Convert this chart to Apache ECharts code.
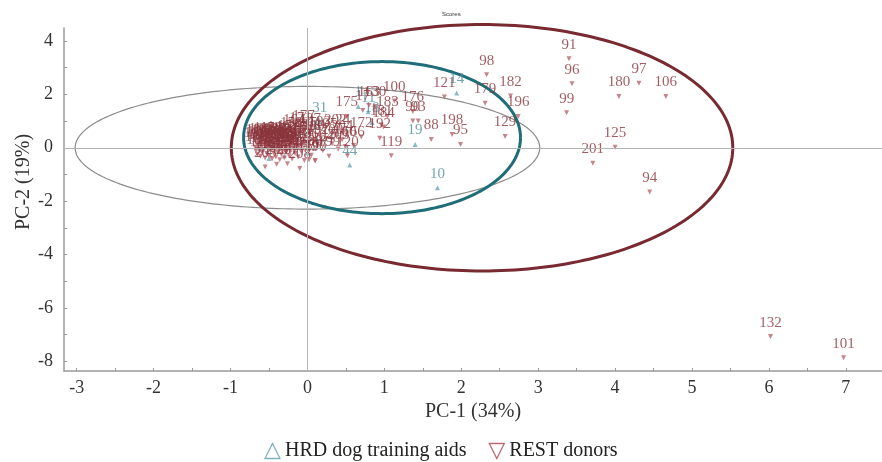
<!DOCTYPE html>
<html><head><meta charset="utf-8">
<script src="https://cdn.jsdelivr.net/npm/echarts@6/dist/echarts.min.js"></script>
<style>html,body{margin:0;padding:0;background:#fff}#c{width:882px;height:462px}</style>
</head><body><div id="c"></div>
<script>
// REST donors (red, down triangles)
const restIds = [91,96,99,98,121,179,182,196,129,198,95,88,119,180,97,106,125,201,94,132,101,100,176,93,90,130,163,17,175,183,181,184,192,24,172,160,166,120,157,197,
102,103,104,105,107,108,109,110,111,112,113,114,115,116,117,118,122,123,124,126,127,128,131,133,134,135,136,137,138,139,140,141,142,143,144,145,146,147,148,149,
150,151,152,153,154,155,156,158,159,161,162,164,165,167,168,169,170,171,173,174,177,178,185,186,187,188,189,190,191,193,194,195,199,200,202,203,204,205,206,207,208];
const restX = [3.40,3.44,3.37,2.33,1.78,2.31,2.64,2.74,2.57,1.88,1.99,1.61,1.09,4.05,4.31,4.66,4.00,3.71,4.45,6.02,6.97,1.13,1.37,1.44,1.37,0.88,0.80,0.72,0.51,1.04,0.96,0.99,0.94,0.46,0.70,0.49,0.60,0.52,0.02,0.10,
-0.68,-0.67,-0.66,-0.65,-0.64,-0.63,-0.62,-0.61,-0.60,-0.59,-0.58,-0.57,-0.56,-0.55,-0.54,-0.53,-0.52,-0.51,-0.50,-0.49,-0.48,-0.47,-0.46,-0.45,-0.44,-0.43,-0.42,-0.41,-0.40,-0.39,-0.38,-0.37,-0.36,-0.35,-0.34,-0.33,-0.32,-0.31,-0.30,-0.29,
-0.28,-0.27,-0.26,-0.25,-0.24,-0.23,-0.22,-0.21,-0.20,-0.19,-0.18,-0.17,-0.16,-0.15,-0.13,-0.12,-0.11,-0.09,-0.08,-0.06,-0.05,-0.04,-0.02,0.00,0.03,0.05,0.08,0.10,0.13,0.16,0.20,0.24,0.28,0.32,0.36,0.40,0.45,
-0.55,-0.40,-0.26,-0.10,0.11,0.30,0.45,0.62];
const restY = [3.34,2.40,1.31,2.74,1.90,1.67,1.94,1.17,0.42,0.50,0.12,0.31,-0.30,1.92,2.42,1.92,0.02,-0.58,-1.66,-7.08,-7.87,1.75,1.36,1.00,1.00,1.55,1.58,1.40,1.17,1.17,0.85,0.78,0.36,0.53,0.40,0.05,0.08,-0.30,-0.45,-0.48,
0.02,-0.12,0.15,-0.25,0.08,-0.05,0.18,-0.32,0.00,-0.18,0.12,-0.08,0.20,-0.38,0.05,-0.22,0.14,-0.02,-0.30,0.10,-0.12,0.22,-0.42,0.03,-0.20,0.16,-0.06,-0.35,0.08,-0.15,0.25,-0.02,-0.45,0.12,-0.25,0.04,-0.10,0.20,-0.38,0.00,
-0.18,0.15,-0.05,0.30,-0.30,0.08,-0.14,0.40,-0.42,0.18,-0.02,0.50,-0.22,0.10,0.32,-0.35,0.05,0.60,-0.15,0.22,0.65,-0.48,0.40,0.00,0.55,-0.28,0.30,-0.50,0.12,0.45,-0.10,0.35,-0.32,0.15,0.50,-0.05,0.30,
-0.72,-0.62,-0.60,-0.78,-0.60,-0.68,-0.48,-0.62];
// HRD dog training aids (teal, up triangles)
const hrdIds = [14,31,19,10,44,18,1,11,2,3,5,6,7,8,9];
const hrdX = [1.94,0.16,1.40,1.69,0.55,0.84,0.66,0.79,-0.62,-0.45,-0.30,-0.15,0.00,0.12,-0.50];
const hrdY = [2.05,0.98,0.12,-1.50,-0.65,0.95,1.55,1.35,-0.05,0.10,-0.30,0.00,-0.20,0.30,-0.40];
// axis ticks
const xTickLabels = [-3,-2,-1,0,1,2,3,4,5,6,7];
const xTickMarks = [-3,-2.5,-2,-1.5,-1,-0.5,0,0.5,1,1.5,2,2.5,3,3.5,4,4.5,5,5.5,6,6.5,7];
const yTickLabels = [-8,-6,-4,-2,0,2,4];
const yTickMarks = [-8,-7,-6,-5,-4,-3,-2,-1,0,1,2,3,4];
// ellipses: [centerX, centerY, semiAxisX, semiAxisY]
const ellipseAll = [0, 0, 3.02, 2.3];
const ellipseHRD = [0.97, 0.38, 1.8, 2.85];
const ellipseREST = [2.27, 0, 3.26, 4.62];

const SERIF = 'Liberation Serif';
const RED_LABEL = '#8a343b', RED_MARK = '#b9666e';
const TEAL_LABEL = '#4d8e9e', TEAL_MARK = '#6ea9b8';

function ellipse(params, color, width, z) {
  return {
    type: 'custom', silent: true, z: z, clip: false,
    data: [params],
    encode: {x: 0, y: 1},
    renderItem: function (p, api) {
      const cx = api.value(0), cy = api.value(1), a = api.value(2), b = api.value(3);
      const pts = [];
      for (let i = 0; i <= 240; i++) {
        const t = i / 240 * Math.PI * 2;
        pts.push(api.coord([cx + a * Math.cos(t), cy + b * Math.sin(t)]));
      }
      return {type: 'polyline', shape: {points: pts}, style: {stroke: color, lineWidth: width, fill: null}};
    }
  };
}
function pts(ids, xs, ys) { return ids.map((id, i) => ({value: [xs[i], ys[i]], name: String(id)})); }

const chart = echarts.init(document.getElementById('c'));
chart.setOption({
  animation: false,
  backgroundColor: '#fff',
  grid: {left: 64, right: 0, top: 28, bottom: 91},
  xAxis: {
    type: 'value', min: -3.165, max: 7.47,
    splitLine: {show: false},
    axisLine: {onZero: false, lineStyle: {color: '#9a9a9a', width: 1.5}},
    axisTick: {inside: true, length: 3, customValues: xTickMarks, lineStyle: {color: '#9a9a9a'}},
    axisLabel: {customValues: xTickLabels, fontFamily: SERIF, fontSize: 18, color: '#333', margin: 8},
    name: 'PC-1 (34%)', nameLocation: 'middle', nameGap: 30,
    nameTextStyle: {fontFamily: SERIF, fontSize: 20, color: '#333'}
  },
  yAxis: {
    type: 'value', min: -8.37, max: 4.49,
    splitLine: {show: false},
    axisLine: {onZero: false, lineStyle: {color: '#9a9a9a', width: 1.5}},
    axisTick: {inside: true, length: 3, customValues: yTickMarks, lineStyle: {color: '#9a9a9a'}},
    axisLabel: {customValues: yTickLabels, fontFamily: SERIF, fontSize: 18, color: '#333', margin: 11}
  },
  legend: {
    top: 436, left: 'center', itemGap: 22, itemWidth: 15, itemHeight: 15,
    textStyle: {fontFamily: SERIF, fontSize: 20, color: '#222'},
    data: [
      {name: 'HRD dog training aids', icon: 'triangle', itemStyle: {color: 'rgba(0,0,0,0)', borderColor: '#5f9fae', borderWidth: 1.3}},
      {name: 'REST donors', icon: 'path://M0,0L10,0L5,10Z', itemStyle: {color: 'rgba(0,0,0,0)', borderColor: '#a8454c', borderWidth: 1.3}}
    ]
  },
  graphic: [
    {type: 'text', left: 442, top: 11, style: {text: 'Scores', font: '6px "Liberation Sans"', fill: '#333'}},
    {type: 'text', x: 24, y: 182, rotation: Math.PI / 2, style: {text: 'PC-2 (19%)', font: '20px "Liberation Serif"', fill: '#333', align: 'center', verticalAlign: 'middle'}}
  ],
  series: [
    {
      type: 'scatter', name: '_zero', data: [], silent: true, z: 1,
      markLine: {silent: true, symbol: 'none', label: {show: false}, animation: false,
        lineStyle: {color: '#b3b3b3', width: 1, type: 'solid'},
        data: [{xAxis: 0}, {yAxis: 0}]}
    },
    ellipse(ellipseAll, '#8c8c8c', 1.2, 2),
    ellipse(ellipseHRD, '#1f6d78', 3, 2),
    ellipse(ellipseREST, '#782a30', 3, 2),
    {
      type: 'scatter', name: 'HRD dog training aids', z: 3,
      symbol: 'triangle', symbolSize: 5,
      itemStyle: {color: TEAL_MARK},
      label: {show: true, position: 'top', distance: 4, formatter: '{b}', fontFamily: SERIF, fontSize: 15, color: TEAL_LABEL},
      data: pts(hrdIds, hrdX, hrdY)
    },
    {
      type: 'scatter', name: 'REST donors', z: 4,
      symbol: 'triangle', symbolRotate: 180, symbolSize: 5,
      itemStyle: {color: RED_MARK},
      label: {show: true, position: 'top', distance: 4, formatter: '{b}', fontFamily: SERIF, fontSize: 15, color: RED_LABEL},
      data: pts(restIds, restX, restY)
    }
  ]
});
</script>
</body></html>
